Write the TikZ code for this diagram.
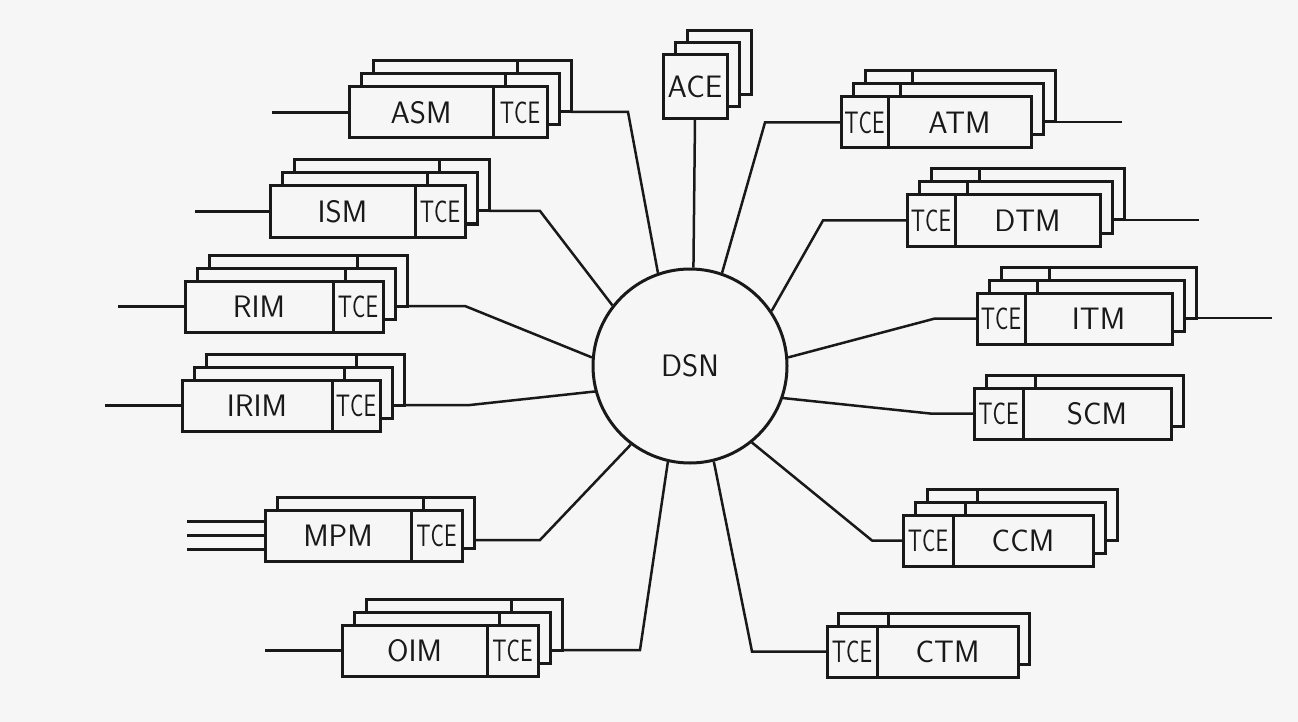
\documentclass[tikz,border=0pt]{standalone}
\usepackage{graphicx}
\usetikzlibrary{positioning}
\definecolor{paper}{gray}{0.965}
\definecolor{ink}{gray}{0.1}

\begin{document}
\begin{tikzpicture}[x=1pt, y=-1pt,
    card/.style={draw=ink, fill=paper, line width=3pt, inner sep=0pt, outer sep=0pt, minimum height=51pt},
    lbl/.style={font=\sffamily\fontsize{31}{33}\selectfont, text=ink},
    wire/.style={draw=ink, line width=2.5pt}]

\useasboundingbox (0,0) rectangle (1298,722);
\fill[paper] (0,0) rectangle (1298,722);

    % central switching network
    \node[draw=ink, line width=3pt, fill=paper, circle, minimum size=194pt, inner sep=0pt, lbl] (dsn) at (690,366) {DSN};

    % ACE on top
    \foreach \n in {2,1}
        \node[card, minimum width=64pt, minimum height=64pt, anchor=north west] (ace\n) at (663+12*\n, 55-12*\n) {};
    \node[card, lbl, minimum width=64pt, minimum height=64pt, anchor=north west] (ace) at (663,55) {ACE};
    \draw[wire] (ace.south) -- (dsn.88);

    % left side, TCE on the right
    \foreach \n in {2,1}{
        \node[card, anchor=north west, minimum width=144pt] (asm\n) at (349+12*\n, 87-13*\n) {};
        \node[card, minimum width=54pt, right=0pt of asm\n] (asm\n-t) {};
    }
    \node[card, lbl, anchor=north west, minimum width=144pt] (asm) at (349,87) {ASM};
    \node[card, lbl, minimum width=54pt, right=0pt of asm] (asmt) {\scalebox{.72}[1]{TCE}};
    \draw[wire] (asm.west) -- ++(-77,0);
    \draw[wire] (asm2-t.south east) -- ++(57,0) -- (dsn.109);

    \foreach \n in {2,1}{
        \node[card, anchor=north west, minimum width=145pt] (ism\n) at (270+12*\n, 186-13*\n) {};
        \node[card, minimum width=50pt, right=0pt of ism\n] (ism\n-t) {};
    }
    \node[card, lbl, anchor=north west, minimum width=145pt] (ism) at (270,186) {ISM};
    \node[card, lbl, minimum width=50pt, right=0pt of ism] (ismt) {\scalebox{.72}[1]{TCE}};
    \draw[wire] (ism.west) -- ++(-75,0);
    \draw[wire] (ism2-t.south east) -- ++(51,0) -- (dsn.142);

    \foreach \n in {2,1}{
        \node[card, anchor=north west, minimum width=148pt] (rim\n) at (185+12*\n, 281-13*\n) {};
        \node[card, minimum width=50pt, right=0pt of rim\n] (rim\n-t) {};
    }
    \node[card, lbl, anchor=north west, minimum width=148pt] (rim) at (185,281) {RIM};
    \node[card, lbl, minimum width=50pt, right=0pt of rim] (rimt) {\scalebox{.72}[1]{TCE}};
    \draw[wire] (rim.west) -- ++(-67,0);
    \draw[wire] (rim2-t.south east) -- ++(58,0) -- (dsn.175);

    \foreach \n in {2,1}{
        \node[card, anchor=north west, minimum width=150pt] (irim\n) at (182+12*\n, 380-13*\n) {};
        \node[card, minimum width=48pt, right=0pt of irim\n] (irim\n-t) {};
    }
    \node[card, lbl, anchor=north west, minimum width=150pt] (irim) at (182,380) {IRIM};
    \node[card, lbl, minimum width=48pt, right=0pt of irim] (irimt) {\scalebox{.72}[1]{TCE}};
    \draw[wire] (irim.west) -- ++(-77,0);
    \draw[wire] (irim2-t.south east) -- ++(66,0) -- (dsn.195);

    \node[card, anchor=north west, minimum width=146pt] (mpm1) at (277,497) {};
    \node[card, minimum width=51pt, right=0pt of mpm1] (mpm1-t) {};
    \node[card, lbl, anchor=north west, minimum width=146pt] (mpm) at (265,510) {MPM};
    \node[card, lbl, minimum width=51pt, right=0pt of mpm] (mpmt) {\scalebox{.72}[1]{TCE}};
    \draw[wire] ([yshift=14pt]mpm.west) -- ++(-78,0);
    \draw[wire] (mpm.west) -- ++(-78,0);
    \draw[wire] ([yshift=-14pt]mpm.west) -- ++(-78,0);
    \draw[wire] ([yshift=8pt]mpm1-t.south east) -- ++(66,0) -- (dsn.233);

    \foreach \n in {2,1}{
        \node[card, anchor=north west, minimum width=145pt] (oim\n) at (342+12*\n, 625-13*\n) {};
        \node[card, minimum width=51pt, right=0pt of oim\n] (oim\n-t) {};
    }
    \node[card, lbl, anchor=north west, minimum width=145pt] (oim) at (342,625) {OIM};
    \node[card, lbl, minimum width=51pt, right=0pt of oim] (oimt) {\scalebox{.72}[1]{TCE}};
    \draw[wire] (oim.west) -- ++(-77,0);
    \draw[wire] (oim2-t.south east) -- ++(78,0) -- (dsn.257);

    % right side, TCE on the left
    \foreach \n in {2,1}{
        \node[card, anchor=north west, minimum width=47pt] (atm\n-t) at (841+12*\n, 97-13*\n) {};
        \node[card, minimum width=143pt, right=0pt of atm\n-t] (atm\n) {};
    }
    \node[card, lbl, anchor=north west, minimum width=47pt] (atmt) at (841,97) {\scalebox{.72}[1]{TCE}};
    \node[card, lbl, minimum width=143pt, right=0pt of atmt] (atm) {ATM};
    \draw[wire] (atmt.west) -- ++(-76,0) -- (dsn.71);
    \draw[wire] (atm2.south east) -- ++(67,0);

    \foreach \n in {2,1}{
        \node[card, anchor=north west, minimum width=48pt] (dtm\n-t) at (907+12*\n, 195-13*\n) {};
        \node[card, minimum width=145pt, right=0pt of dtm\n-t] (dtm\n) {};
    }
    \node[card, lbl, anchor=north west, minimum width=48pt] (dtmt) at (907,195) {\scalebox{.72}[1]{TCE}};
    \node[card, lbl, minimum width=145pt, right=0pt of dtmt] (dtm) {DTM};
    \draw[wire] (dtmt.west) -- ++(-84,0) -- (dsn.34);
    \draw[wire] (dtm2.south east) -- ++(75,0);

    \foreach \n in {2,1}{
        \node[card, anchor=north west, minimum width=48pt] (itm\n-t) at (977+12*\n, 293-13*\n) {};
        \node[card, minimum width=147pt, right=0pt of itm\n-t] (itm\n) {};
    }
    \node[card, lbl, anchor=north west, minimum width=48pt] (itmt) at (977,293) {\scalebox{.72}[1]{TCE}};
    \node[card, lbl, minimum width=147pt, right=0pt of itmt] (itm) {ITM};
    \draw[wire] (itmt.west) -- ++(-42,0) -- (dsn.5);
    \draw[wire] (itm2.south east) -- ++(76,0);

    \node[card, anchor=north west, minimum width=49pt] (scm1-t) at (986,375) {};
    \node[card, minimum width=148pt, right=0pt of scm1-t] (scm1) {};
    \node[card, lbl, anchor=north west, minimum width=49pt] (scmt) at (974,388) {\scalebox{.72}[1]{TCE}};
    \node[card, lbl, minimum width=148pt, right=0pt of scmt] (scm) {SCM};
    \draw[wire] (scmt.west) -- ++(-44,0) -- (dsn.-19);

    \foreach \n in {2,1}{
        \node[card, anchor=north west, minimum width=50pt] (ccm\n-t) at (903+12*\n, 515-13*\n) {};
        \node[card, minimum width=140pt, right=0pt of ccm\n-t] (ccm\n) {};
    }
    \node[card, lbl, anchor=north west, minimum width=50pt] (ccmt) at (903,515) {\scalebox{.72}[1]{TCE}};
    \node[card, lbl, minimum width=140pt, right=0pt of ccmt] (ccm) {CCM};
    \draw[wire] (ccmt.west) -- ++(-31,0) -- (dsn.-51);

    \node[card, anchor=north west, minimum width=50pt] (ctm1-t) at (838,613) {};
    \node[card, minimum width=141pt, right=0pt of ctm1-t] (ctm1) {};
    \node[card, lbl, anchor=north west, minimum width=50pt] (ctmt) at (827,626) {\scalebox{.72}[1]{TCE}};
    \node[card, lbl, minimum width=141pt, right=0pt of ctmt] (ctm) {CTM};
    \draw[wire] (ctmt.west) -- ++(-75,0) -- (dsn.-76);

\end{tikzpicture}
\end{document}
